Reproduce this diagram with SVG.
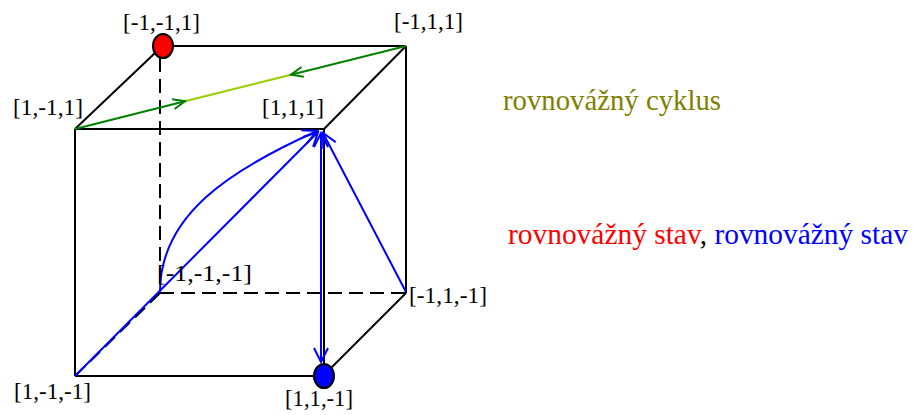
<svg xmlns="http://www.w3.org/2000/svg" width="913" height="415" viewBox="0 0 913 415" font-family="'Liberation Serif', serif">
<style>
text{font-family:'Liberation Serif',serif;}
.lbl{font-size:23px;fill:#000;}
.leg{font-size:29px;}
.edge{stroke:#000;stroke-width:2;fill:none;}
.dash{stroke:#000;stroke-width:2;fill:none;stroke-dasharray:14,7;}
.blue{stroke:#0000FF;stroke-width:2;fill:none;}
.dg{stroke:#008000;stroke-width:2;fill:none;}
.lg{stroke:#99CC00;stroke-width:2;fill:none;}
</style>
<defs>
<marker id="ab" markerUnits="userSpaceOnUse" viewBox="-16 -9 18 18" markerWidth="18" markerHeight="18" refX="0" refY="0" orient="auto-start-reverse">
<path d="M-14,-7 L0,0 L-14,7" fill="none" stroke="#0000FF" stroke-width="2"/>
</marker>
<marker id="ag" markerUnits="userSpaceOnUse" viewBox="-14 -8 16 16" markerWidth="16" markerHeight="16" refX="0" refY="0" orient="auto">
<path d="M-12,-5 L0,0 L-12,5" fill="none" stroke="#008000" stroke-width="2"/>
</marker>
</defs>
<rect width="913" height="415" fill="#fff"/>
<g id="connectors">
<line class="dash" x1="160" y1="58" x2="160" y2="293"/>
<line class="dash" x1="160" y1="293" x2="406" y2="293"/>
<line class="dash" x1="160" y1="293" x2="75" y2="376"/>
<line class="edge" x1="75" y1="129" x2="324" y2="129"/>
<line class="edge" x1="75" y1="129" x2="75" y2="376"/>
<line class="edge" x1="75" y1="376" x2="314" y2="376"/>
<line class="edge" x1="324" y1="129" x2="324" y2="365"/>
<line class="edge" x1="75" y1="129" x2="155" y2="53"/>
<line class="edge" x1="173" y1="46" x2="406" y2="46"/>
<line class="edge" x1="406" y1="46" x2="406" y2="293"/>
<line class="edge" x1="324" y1="129" x2="406" y2="46"/>
<line class="edge" x1="331" y1="368" x2="406" y2="293"/>
<line class="lg" x1="183" y1="101.7" x2="293" y2="74.2"/>
<line class="dg" x1="75" y1="129" x2="185" y2="101.2" marker-end="url(#ag)"/>
<line class="dg" x1="406" y1="46" x2="291" y2="74.7" marker-end="url(#ag)"/>
<line class="blue" x1="75" y1="376" x2="318" y2="132" marker-end="url(#ab)"/>
<path class="blue" d="M160,292 C160,215 230,170 317,131" marker-end="url(#ab)"/>
<line class="blue" x1="321" y1="133" x2="321" y2="362" marker-start="url(#ab)" marker-end="url(#ab)"/>
<line class="blue" x1="406" y1="292" x2="323" y2="133" marker-end="url(#ab)"/>
</g>
<g id="n_m1m11">
<ellipse cx="163" cy="46" rx="10" ry="12" fill="#FF0000" stroke="#000" stroke-width="2"/>
<text class="lbl" x="123" y="30" textLength="77" lengthAdjust="spacingAndGlyphs">[-1,-1,1]</text>
</g>
<g id="n_m111">
<text class="lbl" x="394" y="29" textLength="69" lengthAdjust="spacingAndGlyphs">[-1,1,1]</text>
</g>
<g id="n_1m11">
<text class="lbl" x="13" y="115" textLength="70" lengthAdjust="spacingAndGlyphs">[1,-1,1]</text>
</g>
<g id="n_111">
<text class="lbl" x="262" y="115" textLength="62" lengthAdjust="spacingAndGlyphs">[1,1,1]</text>
</g>
<g id="n_m1m1m1">
<text class="lbl" x="157" y="281" textLength="95" lengthAdjust="spacingAndGlyphs">[-1,-1,-1]</text>
</g>
<g id="n_m11m1">
<text class="lbl" x="409" y="303" textLength="78" lengthAdjust="spacingAndGlyphs">[-1,1,-1]</text>
</g>
<g id="n_1m1m1">
<text class="lbl" x="14" y="399" textLength="77" lengthAdjust="spacingAndGlyphs">[1,-1,-1]</text>
</g>
<g id="n_11m1">
<ellipse cx="324" cy="376" rx="10" ry="12" fill="#0000FF" stroke="#000" stroke-width="2"/>
<text class="lbl" x="285" y="406" textLength="68" lengthAdjust="spacingAndGlyphs">[1,1,-1]</text>
</g>
<g id="legend">
<text class="leg" x="503" y="110" fill="#808000" textLength="218" lengthAdjust="spacingAndGlyphs">rovnovážný cyklus</text>
<text class="leg" x="508" y="244" textLength="400" lengthAdjust="spacingAndGlyphs"><tspan fill="#FF0000">rovnovážný stav</tspan><tspan fill="#000">, </tspan><tspan fill="#0000FF">rovnovážný stav</tspan></text>
</g>
</svg>
